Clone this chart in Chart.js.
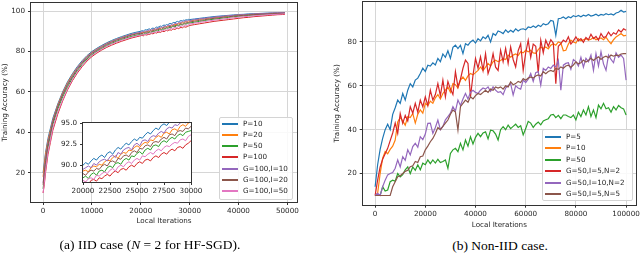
<!DOCTYPE html>
<html><head><meta charset="utf-8">
<script src="https://cdn.jsdelivr.net/npm/chart.js@4.4.1/dist/chart.umd.min.js"></script>
<style>
html,body{margin:0;padding:0;background:#fff;width:640px;height:256px;overflow:hidden;position:relative;font-family:'DejaVu Sans',sans-serif;}
canvas{position:absolute;}
.legend{position:absolute;background:rgba(255,255,255,0.85);border:1px solid #d4d4d4;border-radius:2px;box-sizing:border-box;}
.item{position:absolute;left:0;height:10px;font-size:7.2px;line-height:10px;color:#262626;white-space:nowrap;}
.item i{position:absolute;top:4px;height:2px;width:16px;}
.item span{position:absolute;top:0;}
.cap{position:absolute;font-family:'Liberation Serif','Times New Roman',serif;font-size:13.5px;line-height:16px;color:#000;white-space:nowrap;transform:translateX(-50%);}
</style>
</head><body>
<canvas id="cL" width="305" height="232" style="left:0;top:0;width:305px;height:232px"></canvas>
<canvas id="cIn" width="162" height="78" style="left:50px;top:118px;width:162px;height:78px"></canvas>
<canvas id="cR" width="320" height="232" style="left:320px;top:0;width:320px;height:232px"></canvas>
<div id="legL" class="legend" style="left:219px;top:117px;width:74px;height:83px"></div>
<div id="legR" class="legend" style="left:542px;top:129px;width:91px;height:72px"></div>
<div class="cap" style="left:150px;top:237px">(a) IID case (<i>N</i> = 2 for HF-SGD).</div>
<div class="cap" style="left:500px;top:238px">(b) Non-IID case.</div>
<script>
// ---------- Left panel (IID) ----------
const itersL = [0,250,500,1000,1500,2000,3000,4000,5000,6000,7000,8000,9000,10000,11000,12000,13000,14000,15000,16000,17000,18000,19000,
20000,20250,20500,20750,21000,21250,21500,21750,22000,22250,22500,22750,23000,23250,23500,23750,24000,24250,24500,24750,25000,25250,25500,25750,26000,26250,26500,26750,27000,27250,27500,27750,28000,28250,28500,28750,29000,29250,29500,29750,30000,
31000,32000,33000,34000,35000,36000,37000,38000,39000,40000,41000,42000,43000,44000,45000,46000,47000,48000,49000,49500];
const namesL = ['P=10','P=20','P=50','P=100','G=100,I=10','G=100,I=20','G=100,I=50'];
const accL_P10 = [20,25,30,37,42,47,54,60,65,69,72.5,75.5,78,80,81.6,83,84.3,85.4,86.4,87.3,88.1,88.9,89.5,
90.0,90.3,90.1,90.5,90.8,90.6,91.0,91.2,90.9,91.4,91.6,91.3,91.8,92.1,91.9,92.3,92.6,92.4,92.8,93.1,92.9,93.3,93.2,93.6,93.9,93.7,94.1,94.4,94.2,94.7,94.9,94.7,95.1,95.3,95.1,95.5,95.4,95.7,95.6,95.9,95.8,
96.1,96.4,96.7,97.0,97.3,97.5,97.7,97.9,98.1,98.3,98.4,98.6,98.7,98.8,98.9,99.0,99.1,99.2,99.3,99.3];
const accL_P20 = [18,24,29,36,41,46,53.5,59.5,64.5,68.5,72,75,77.6,79.6,81.2,82.6,83.9,85,86,86.9,87.7,88.4,88.9,
89.3,89.4,89.2,89.7,89.9,89.8,90.1,90.0,90.4,90.6,90.5,90.9,91.1,90.8,91.3,91.5,91.4,91.8,91.7,92.1,92.3,92.1,92.5,92.7,92.6,93.0,92.9,93.3,93.5,93.3,93.8,93.9,93.7,94.2,94.3,94.1,94.6,94.8,94.6,95.0,95.1,
95.5,95.9,96.2,96.5,96.8,97.1,97.3,97.6,97.8,98.0,98.1,98.3,98.4,98.6,98.7,98.8,98.9,99.0,99.1,99.1];
const accL_P50 = [12,18,24,32.5,38.5,44,51.5,57.5,62.5,66.8,70.5,73.6,76.3,78.4,80.1,81.5,82.9,84,85,85.9,86.7,87.4,88.0,
88.5,88.7,88.4,88.9,89.1,88.8,89.3,89.4,89.2,89.7,89.9,89.7,90.2,90.3,90.1,90.6,90.8,90.6,91.1,91.0,91.4,91.6,91.3,91.8,92.0,91.8,92.3,92.4,92.2,92.7,92.9,92.7,93.1,93.3,93.1,93.5,93.7,93.5,93.9,94.0,94.1,
94.5,94.9,95.3,95.7,96.0,96.3,96.6,96.9,97.2,97.4,97.6,97.8,98.0,98.2,98.3,98.5,98.6,98.7,98.8,98.9];
const accL_P100 = [10,14,20,29,35,41,49,55.5,61,65.5,69.3,72.5,75.3,77.5,79.2,80.7,82,83.1,84.1,85.0,85.8,86.6,87.2,
87.8,88.0,87.7,88.2,88.3,88.1,88.5,88.4,88.7,88.9,88.7,89.1,89.3,89.1,89.5,89.6,89.4,89.8,90.0,89.8,90.2,90.4,90.2,90.6,90.7,90.5,90.9,91.1,90.9,91.3,91.5,91.3,91.7,91.9,91.7,92.1,92.2,92.0,92.4,92.6,92.9,
93.3,93.7,94.1,94.5,94.9,95.2,95.5,95.8,96.1,96.4,96.7,96.9,97.2,97.4,97.6,97.8,98.0,98.2,98.3,98.4];
const accL_G100I10 = [15,21,27,35,40,45.5,53,59,64,68,71.8,74.8,77.4,79.4,81,82.5,83.8,84.9,85.9,86.8,87.6,88.4,89.0,
89.5,89.7,89.9,89.7,90.2,90.0,90.4,90.6,90.7,90.5,91.0,91.2,90.9,91.5,91.3,91.8,92.0,92.1,91.8,92.4,92.6,92.3,92.9,93.0,92.8,93.3,93.5,93.4,93.8,94.0,93.8,94.3,94.5,94.4,94.8,94.7,95.0,95.2,95.0,95.4,95.3,
95.8,96.1,96.4,96.7,97.0,97.3,97.5,97.7,97.9,98.1,98.2,98.4,98.5,98.7,98.8,98.9,99.0,99.1,99.2,99.2];
const accL_G100I20 = [14,20,26,34,39.5,45,52.5,58.5,63.5,67.5,71.2,74.3,77,79,80.6,82,83.4,84.5,85.5,86.4,87.2,88.0,88.6,
89.0,88.8,89.2,89.4,89.3,89.6,89.5,89.9,90.1,89.9,90.4,90.5,90.3,90.8,90.7,91.1,91.2,91.0,91.5,91.7,91.5,92.0,91.9,92.3,92.4,92.2,92.7,92.8,92.7,93.1,93.3,93.1,93.6,93.7,93.5,94.0,94.1,94.0,94.4,94.3,94.6,
95.0,95.4,95.7,96.1,96.4,96.7,97.0,97.2,97.5,97.7,97.9,98.1,98.2,98.4,98.5,98.6,98.7,98.8,98.9,99.0];
const accL_G100I50 = [10,15,21,30,36,42,50,56,61.5,66,69.8,73,75.8,78,79.7,81.1,82.5,83.6,84.6,85.5,86.3,87.0,87.6,
88.2,88.0,88.4,88.5,88.3,88.8,88.7,89.0,89.2,89.0,89.4,89.6,89.3,89.8,90.0,89.8,90.2,90.4,90.2,90.6,90.8,90.6,91.1,91.0,91.3,91.5,91.3,91.7,91.9,91.7,92.1,92.3,92.2,92.5,92.7,92.6,93.0,93.1,92.9,93.4,93.6,
94.0,94.4,94.8,95.2,95.5,95.8,96.1,96.4,96.7,97.0,97.2,97.4,97.6,97.8,98.0,98.2,98.3,98.4,98.6,98.7];
const xTicksL = [0,10000,20000,30000,40000,50000];
const yTicksL = [20,40,60,80,100];
const xTicksInset = [20000,22500,25000,27500,30000];
const yTicksInset = [90,92.5,95];

// ---------- Right panel (Non-IID) ----------
const itersR = [0,1000,2000,3000,4000,5000,6000,7000,8000,9000,10000,11000,12000,13000,14000,15000,16000,17000,18000,19000,
20000,21000,22000,23000,24000,25000,26000,27000,28000,29000,30000,31000,32000,33000,34000,35000,36000,37000,38000,39000,
40000,41000,42000,43000,44000,45000,46000,47000,48000,49000,50000,51000,52000,53000,54000,55000,56000,57000,58000,59000,
60000,61000,62000,63000,64000,65000,66000,67000,68000,69000,70000,71000,72000,73000,74000,75000,76000,77000,78000,79000,
80000,81000,82000,83000,84000,85000,86000,87000,88000,89000,90000,91000,92000,93000,94000,95000,96000,97000,98000,99000,100000];
const namesR = ['P=5','P=10','P=50','G=50,I=5,N=2','G=50,I=10,N=2','G=50,I=5,N=5'];
const accR_P5 = [14,24,31,36,40,42.5,40,47,50,53.5,
52,56.5,53.5,58,61,59.5,62.6,63.5,65.6,68,
66.5,69.4,69,70.5,69.5,72.5,71,74.5,73,76,
72.5,77.5,78.5,77,78.5,74.7,79.2,78.5,80,80.8,
79.5,81.5,80.5,82.3,81.5,83,80,83.8,83,85,
84.5,83.8,85.5,84.3,85.3,84.5,86,85,85.8,86,
85.5,86.8,86.5,87.3,86.6,87.6,87,88.3,87.8,88.3,
89.8,89.4,83,90.6,90.8,91.4,90.6,91.5,91,92,
91.5,92.1,91.5,92.2,91.8,92.5,91.8,92.1,92.6,91.9,
92.5,92.2,92.9,92.4,92.8,92.3,93.2,93.5,94.4,93.6,93.9];
const accR_P10 = [10,11,20,27,30,29,31,32.5,35.3,43.5,
45.5,44,42,46,45.5,47.4,43,47,49,47.5,
52,51,53,52,54.5,56,54,56.5,58,59.5,
57,61,60.5,59,62.6,64,62.5,64.5,65.6,65,
66,67,68.6,67,68.5,70.2,69,71,71.7,71,
71.5,72.4,72,74,73,74,74.5,73.8,75.5,75,
76.2,75.5,76.2,75,74.8,76.5,77.7,77,77.7,76.8,
78.5,79.2,78.5,80,79.5,76,76.2,79,80.8,80,
79.5,81.5,80.5,81,81.5,80.8,81.2,82,81,81.5,
81.8,81,82.2,80.5,79.2,81,82.3,83,83.8,82.8,83];
const accR_P50 = [10,10,10,14,12,12.5,16.3,17,16.5,20,
18.5,19.5,21.7,23,20,23,21.5,24,21.7,24.7,
24,26.2,24.5,26.2,24.8,26.5,25,25.5,26.2,22.4,
29.2,30.8,31.5,30,33.8,30.8,35.3,32.5,36.8,33.5,
36.5,38.3,36.8,38.5,39,35.8,39.8,39.5,38,35.3,
40,41.4,40,42.1,40.5,41.5,42.5,41,41.8,37.6,
40.5,43.8,43,41,42.5,43.5,42.2,44,44.5,45,
46.7,47,45.5,46.5,45,46.7,46.7,46,45.5,46.7,
44.4,48,46,49,46.7,50.5,46,49,45.5,51.2,
49.5,52,49.5,50,48,50.5,49,51,50,49.5,46.7];
const accR_G50I5N2 = [10,17,23,26.5,29,31.5,35,38.5,43,38.3,
47.4,42.9,46.5,44,50.5,47.5,52,48,53.5,50.5,
55,51,58,53.5,56,61,55.5,62.6,55,62,
58.5,56,66.4,59.5,63,68,71.7,70.2,55,64.8,
72.4,68,73.2,67,74.7,65.6,69,74.7,68.5,67,
76.2,71,77,70.2,77.7,72,68.6,76,79.2,67,
75,80.8,73,79,78,66,80.8,75,80.8,78,
81,79.5,61,78,79.2,80.8,80,82.3,79,80.5,
82.3,80.5,81.5,79.8,82,81,83.5,81.5,82.5,80.8,
83.8,82,82.5,84.5,82.8,84.2,83.5,85.5,84.5,86,85.3];
const accR_G50I10N2 = [10,11,10,14,17,19.4,20,20.5,22.4,26.2,
23,27.7,26,30.8,28.5,32.3,33.8,32,36.8,35.5,
38,42.9,43,38.3,41,44.4,40,41.5,44.5,46,
47.5,50.5,48.5,53.5,51,54,56.5,54,57,58,
57,56.5,58,59,58.5,59.5,57.5,59.5,58,57,
57.3,56,59,60,61,55.8,60,59,58.5,62.6,
61.5,63,65.6,62,66,66.5,60.3,67.9,67,68.6,
67.9,69.4,68.6,71.7,58,69.4,70.2,70.5,67.5,72,
71,69,73,68.5,72.5,71,74,67,74.7,69,
75.5,70,67.1,74,72,70.5,75,73,74,72.5,62.6];
const accR_G50I5N5 = [10,10,10,10,10,10,10,14,16.3,18.6,
19,20,21,21.5,23.1,23.5,25.5,25,27.7,28,
30.8,32.5,34.5,36,38.3,41,40,41.5,43,44.4,
47,49,48,39.8,50.5,52,53.5,52.5,55,54,
55.5,56.5,56,57,58,57,58.5,58,59.5,59,
59.5,58.5,60,59.5,61.8,60.5,61,62,61.5,63.3,
62.5,63.5,64,63.5,64.5,65,64.5,66.4,65.5,66.5,
67,66.5,67.9,67.5,68.6,68,69,69.4,68.5,69.5,
70.9,70,70.5,71.7,70.8,71.5,72.5,71.5,72.5,73.2,
72,73,73.5,72.8,74,73.5,74,73.8,74.5,74.7,74.7];
const xTicksR = [0,20000,40000,60000,80000,100000];
const yTicksR = [20,40,60,80];

const palette = ['#1f77b4','#ff7f0e','#2ca02c','#d62728','#9467bd','#8c564b','#e377c2'];
const TXT = '#262626';
const FONT = {family:"'DejaVu Sans', sans-serif", size:7.2};

const framePlugin = {
  id:'frame',
  beforeDraw(chart, args, opts){
    if(!opts.fill) return;
    const a = chart.chartArea, ctx = chart.ctx;
    ctx.save(); ctx.fillStyle = '#ffffff';
    ctx.fillRect(a.left, a.top, a.right - a.left, a.bottom - a.top);
    ctx.restore();
  },
  afterDraw(chart){
    const a = chart.chartArea, ctx = chart.ctx;
    ctx.save(); ctx.strokeStyle = '#333'; ctx.lineWidth = 1;
    ctx.strokeRect(Math.round(a.left)-0.5, Math.round(a.top)-0.5, Math.round(a.right)-Math.round(a.left)+1, Math.round(a.bottom)-Math.round(a.top)+1);
    ctx.restore();
  }
};

function buildChart(id, xs, series, names, colors, o){
  const ds = series.map((s,i)=>({
    label:names[i], data: xs.map((x,j)=>({x:x, y:s[j]})),
    borderColor:colors[i], backgroundColor:colors[i], borderWidth:o.lw,
    pointRadius:0, tension:0, fill:false, order: series.length - i
  }));
  return new Chart(document.getElementById(id), {
    type:'line',
    data:{datasets:ds},
    options:{
      responsive:false, animation:false, events:[], devicePixelRatio:1,
      layout:{padding:o.pad},
      plugins:{legend:{display:false}, tooltip:{enabled:false}, frame:{fill:!!o.fill}},
      scales:{
        x:{
          type:'linear', min:o.xmin, max:o.xmax,
          afterBuildTicks:s=>{ s.ticks = o.xticks.map(v=>({value:v})); },
          afterFit:s=>{ s.height = o.xh; s.paddingLeft = 0; s.paddingRight = 0; },
          ticks:{autoSkip:false, maxRotation:0, minRotation:0, padding:2, color:TXT, font:FONT, callback:v=>String(v)},
          grid:{drawOnChartArea:!!o.grid, color:'#d6d6d6', lineWidth:1, tickLength:3, tickColor:'#333', tickWidth:1},
          border:{display:false},
          title: o.xtitle ? {display:true, text:o.xtitle, color:TXT, font:FONT, padding:{top:0, bottom:o.xtpad}} : {display:false}
        },
        y:{
          type:'linear', min:o.ymin, max:o.ymax,
          afterBuildTicks:s=>{ s.ticks = o.yticks.map(v=>({value:v})); },
          afterFit:s=>{ s.width = o.yw; s.paddingTop = 0; s.paddingBottom = 0; },
          ticks:{autoSkip:false, padding:3, color:TXT, font:FONT, callback:o.yfmt},
          grid:{drawOnChartArea:!!o.grid, color:'#d6d6d6', lineWidth:1, tickLength:3, tickColor:'#333', tickWidth:1},
          border:{display:false},
          title: o.ytitle ? {display:true, text:o.ytitle, color:TXT, font:FONT, padding:{top:o.ytpad, bottom:0}} : {display:false}
        }
      }
    },
    plugins:[framePlugin]
  });
}

const seriesL = [accL_P10, accL_P20, accL_P50, accL_P100, accL_G100I10, accL_G100I20, accL_G100I50];
const seriesR = [accR_P5, accR_P10, accR_P50, accR_G50I5N2, accR_G50I10N2, accR_G50I5N5];

buildChart('cL', itersL, seriesL, namesL, palette, {
  lw:1, pad:{left:0, top:3, right:8, bottom:0}, grid:true,
  xmin:-2475, xmax:51975, ymin:5.5, ymax:104, xticks:xTicksL, yticks:yTicksL,
  xh:30, yw:31, xtitle:'Local Iterations', xtpad:6.7, ytitle:'Training Accuracy (%)', ytpad:0.7,
  yfmt:v=>String(v)
});
buildChart('cIn', itersL, seriesL, namesL, palette, {
  lw:1, pad:{left:0, top:5, right:21, bottom:0}, grid:false, fill:true,
  xmin:20000, xmax:30000, ymin:88, ymax:95, xticks:xTicksInset, yticks:yTicksInset,
  xh:14, yw:33, yfmt:v=>Number(v).toFixed(1)
});
buildChart('cR', itersR, seriesR, namesR, palette, {
  lw:1.2, pad:{left:0, top:2, right:4, bottom:0}, grid:true,
  xmin:-4950, xmax:103950, ymin:5.8, ymax:98.2, xticks:xTicksR, yticks:yTicksR,
  xh:27.3, yw:42.7, xtitle:'Local Iterations', xtpad:3, ytitle:'Training Accuracy (%)', ytpad:12.7,
  yfmt:v=>String(v)
});

function buildLegend(id, names, colors, y0, dy, textLeft){
  const el = document.getElementById(id);
  names.forEach((n,i)=>{
    const it = document.createElement('div');
    it.className = 'item';
    it.style.top = Math.round(y0 + dy*i - 5) + 'px';
    it.innerHTML = '<i style="left:2px;background:'+colors[i]+'"></i><span style="left:'+textLeft+'px">'+n+'</span>';
    el.appendChild(it);
  });
}
buildLegend('legL', namesL, palette, 5.5, 11.3, 23);
buildLegend('legR', namesR, palette, 6.5, 11.5, 23);
</script>
</body></html>
